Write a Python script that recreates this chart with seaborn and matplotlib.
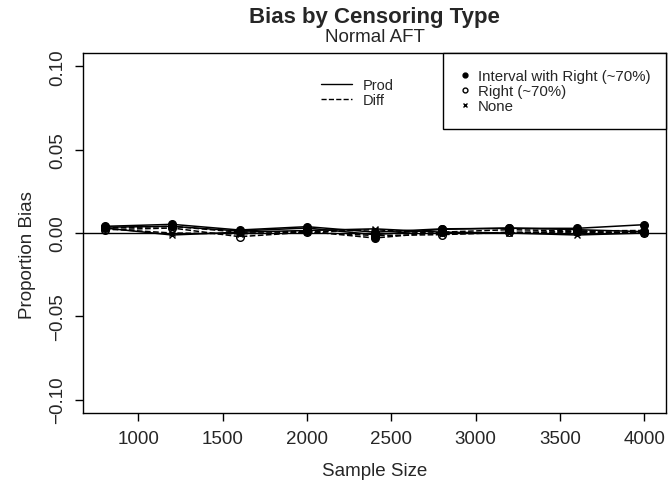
import pandas as pd
import numpy as np
import seaborn as sns
import matplotlib.pyplot as plt
from matplotlib.lines import Line2D

sample_size = [800, 1200, 1600, 2000, 2400, 2800, 3200, 3600, 4000]

# proportion bias (estimates)
ir_prod = [0.004, 0.0052, 0.0018, 0.0038, 0.0005, 0.0025, 0.0028, 0.0028, 0.005]
ir_diff = [0.003, 0.004, 0.0005, 0.001, -0.003, 0.0005, 0.002, 0.0012, 0.0015]
right_prod = [0.0035, 0.004, 0.0012, 0.003, -0.001, 0.0022, 0.003, 0.002, 0.0008]
right_diff = [0.002, 0.003, -0.0022, 0.0005, -0.0015, -0.001, 0.0005, 0.0005, 0.0003]
none_prod = [0.003, -0.0012, 0.0005, 0.0015, 0.0025, 0.0005, 0.0, -0.0012, 0.0]
none_diff = [0.0025, 0.0, -0.0005, 0.0005, 0.002, -0.0005, 0.0, 0.001, 0.0]

censor_labels = ["Interval with Right (~70%)", "Right (~70%)", "None"]
method_labels = ["Prod", "Diff"]

sns.set_style("white")
plt.rcParams['font.family'] = ['Liberation Sans', 'DejaVu Sans']

fig = plt.figure(figsize=(6.68, 4.89), dpi=100)
ax = fig.add_axes([83/668, 75/489, 583/668, 360/489])

series = [
    (ir_prod, "o", "full", "-"),
    (ir_diff, "o", "full", "--"),
    (right_prod, "o", "none", "-"),
    (right_diff, "o", "none", "--"),
    (none_prod, "x", "full", "-"),
    (none_diff, "x", "full", "--"),
]
for vals, mk, fill, ls in series:
    df = pd.DataFrame({"n": sample_size, "bias": vals})
    if fill == "none":
        sns.lineplot(data=df, x="n", y="bias", ax=ax, color="black", lw=1.1,
                     linestyle=ls, marker=mk, markersize=5.5,
                     markerfacecolor="none", markeredgecolor="black", markeredgewidth=1.0)
    else:
        sns.lineplot(data=df, x="n", y="bias", ax=ax, color="black", lw=1.1,
                     linestyle=ls, marker=mk, markersize=5.5 if mk == "o" else 5,
                     markeredgecolor="black", markeredgewidth=1.0)

ax.axhline(0, color="black", lw=1.0)

ax.set_xlim(672, 4128)
ax.set_ylim(-0.108, 0.108)
ax.set_xticks([1000, 1500, 2000, 2500, 3000, 3500, 4000])
ax.set_yticks([-0.10, -0.05, 0.0, 0.05, 0.10])
ax.set_yticklabels(["\u22120.10", "\u22120.05", "0.00", "0.05", "0.10"], rotation=90, va="center")
ax.tick_params(axis="both", direction="out", length=6, width=1, color="black",
               labelsize=13.5, left=True, bottom=True)
ax.tick_params(axis="x", pad=6)
ax.tick_params(axis="y", pad=6)
for s in ax.spines.values():
    s.set_color("black")
    s.set_linewidth(1.0)
ax.set_xlabel("")
ax.set_ylabel("")

fig.text(374.5/668, 1 - 18/489, "Bias by Censoring Type", ha="center", va="center",
         fontsize=16, fontweight="bold")
fig.text(374.5/668, 1 - 38/489, "Normal AFT", ha="center", va="center", fontsize=13.5)
fig.text(374.5/668, 1 - 472/489, "Sample Size", ha="center", va="center", fontsize=13.5)
fig.text(28/668, 234/489, "Proportion Bias", ha="center", va="center", rotation=90, fontsize=13.5)

# method legend (line types, no box)
h1 = [Line2D([], [], color="black", lw=1.0, ls="-"),
      Line2D([], [], color="black", lw=1.0, ls="--")]
leg1 = ax.legend(h1, method_labels, loc="upper left", bbox_to_anchor=(0.386, 0.967),
                 frameon=False, fontsize=10.5, handlelength=2.1, handletextpad=0.75,
                 labelspacing=0.05)
ax.add_artist(leg1)

# censoring legend (symbols, boxed)
h2 = [Line2D([], [], color="black", ls="none", marker="o", markersize=3.5),
      Line2D([], [], color="black", ls="none", marker="o", markersize=3.5, markerfacecolor="none"),
      Line2D([], [], color="black", ls="none", marker="x", markersize=3.5)]
leg2 = ax.legend(h2, censor_labels, loc="upper right", borderaxespad=0.0,
                 fontsize=10.8, handlelength=0.8, handletextpad=0.45, labelspacing=0.08,
                 fancybox=False, framealpha=1, edgecolor="black", borderpad=1.05)
leg2.get_frame().set_linewidth(1.0)

plt.savefig("out.png", dpi=100)
